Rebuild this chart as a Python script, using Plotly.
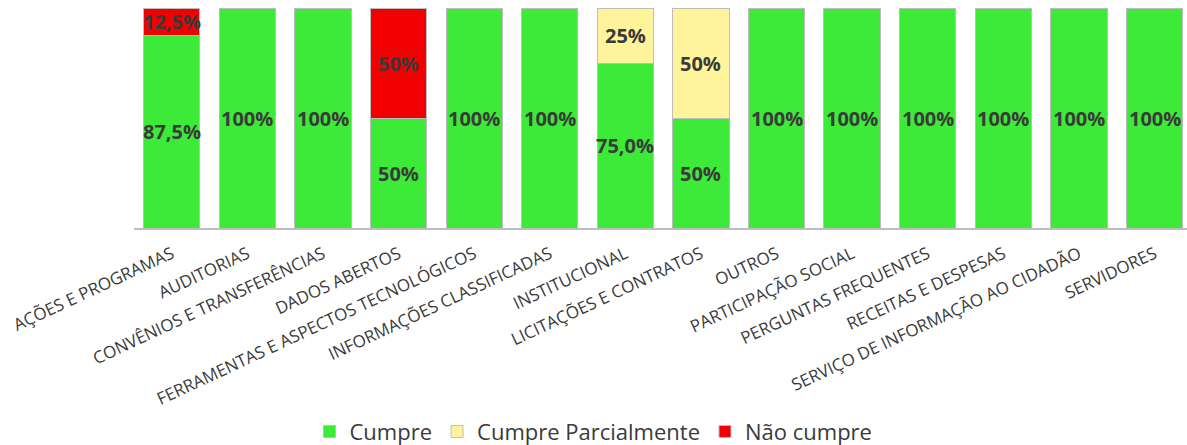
import plotly.graph_objects as go

categories = [
    "AÇÕES E PROGRAMAS", "AUDITORIAS", "CONVÊNIOS E TRANSFERÊNCIAS", "DADOS ABERTOS",
    "FERRAMENTAS E ASPECTOS TECNOLÓGICOS", "INFORMAÇÕES CLASSIFICADAS", "INSTITUCIONAL",
    "LICITAÇÕES E CONTRATOS", "OUTROS", "PARTICIPAÇÃO SOCIAL", "PERGUNTAS FREQUENTES",
    "RECEITAS E DESPESAS", "SERVIÇO DE INFORMAÇÃO AO CIDADÃO", "SERVIDORES",
]

cumpre = [87.5, 100, 100, 50, 100, 100, 75, 50, 100, 100, 100, 100, 100, 100]
cumpre_parcial = [0, 0, 0, 0, 0, 0, 25, 50, 0, 0, 0, 0, 0, 0]
nao_cumpre = [12.5, 0, 0, 50, 0, 0, 0, 0, 0, 0, 0, 0, 0, 0]

# decimals shown in each bar's "Cumpre" label
decimais = [1, 0, 0, 0, 0, 0, 1, 0, 0, 0, 0, 0, 0, 0]

series = [
    ("Cumpre", cumpre, "#3DEA37"),
    ("Cumpre Parcialmente", cumpre_parcial, "#FFF49C"),
    ("Não cumpre", nao_cumpre, "#F00000"),
]

FONT = "Open Sans"
TEXT_COLOR = "#3A3A3A"


def fmt(v, d):
    return f"{v:.{d}f}".replace(".", ",") + "%"


fig = go.Figure()
for name, vals, color in series:
    fig.add_trace(go.Bar(
        x=categories, y=vals, name=name,
        marker=dict(color=color, line=dict(color="#BDBDBD", width=1)),
    ))

# value labels centred in each stacked segment
base = [0.0] * len(categories)
for name, vals, color in series:
    for i, v in enumerate(vals):
        if v > 0:
            d = decimais[i] if name == "Cumpre" else (1 if v % 1 else 0)
            fig.add_annotation(
                x=categories[i], y=base[i] + v / 2, text=fmt(v, d),
                showarrow=False, xref="x", yref="y",
                font=dict(family=FONT, size=20, color=TEXT_COLOR, weight="bold"),
            )
            base[i] += v

fig.update_layout(
    width=1187, height=445,
    margin=dict(l=134, r=0, t=8, b=217),
    barmode="stack", bargap=0.255,
    plot_bgcolor="white", paper_bgcolor="white",
    font=dict(family=FONT, color=TEXT_COLOR),
    showlegend=True,
    legend=dict(
        orientation="h", x=0.5, xanchor="center", xref="container",
        y=0.03, yanchor="middle", yref="container",
        font=dict(family=FONT, size=22, color=TEXT_COLOR),
        traceorder="normal", itemwidth=30,
    ),
)
fig.update_xaxes(
    range=[-0.5, 13.43], showgrid=False,
    showline=True, linecolor="#BDBDBD", linewidth=1.5,
    tickangle=-25, tickfont=dict(family=FONT, size=17, color=TEXT_COLOR),
    ticks="", ticklabelstandoff=8,
)
fig.update_yaxes(range=[0, 100], visible=False, showgrid=False)

fig.write_html("out.html")
